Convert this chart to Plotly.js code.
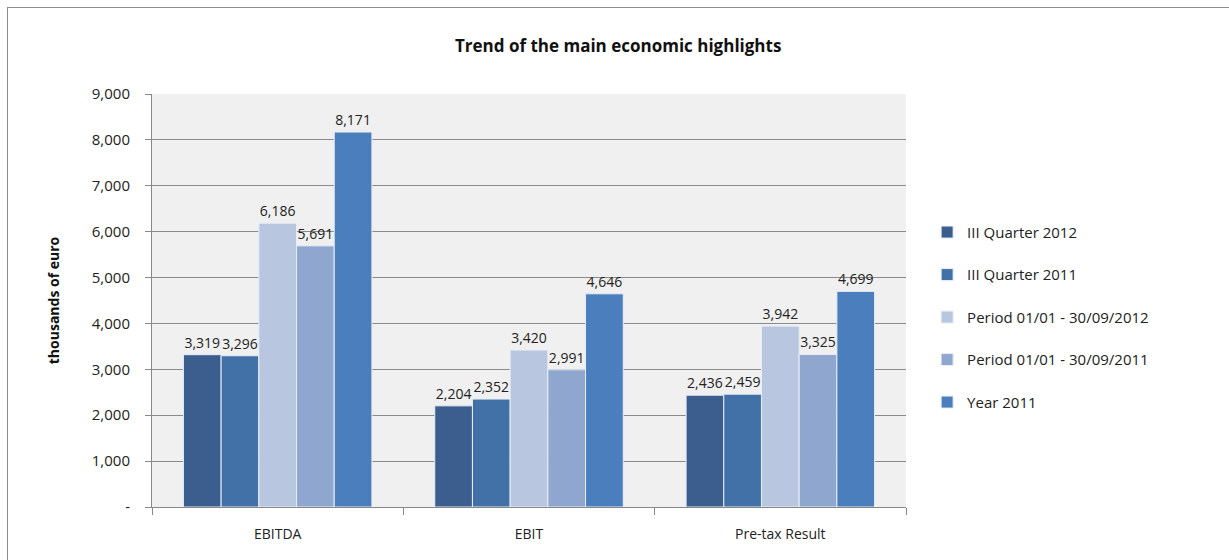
<!DOCTYPE html>
<html>
<head>
<meta charset="utf-8">
<script src="https://cdn.plot.ly/plotly-3.0.1.min.js"></script>
<style>
html,body{margin:0;padding:0;background:#fff;}
#wrap{position:relative;width:1229px;height:560px;}
#chart{width:1229px;height:560px;}
#frame{position:absolute;left:7px;top:7px;width:1240px;height:580px;border:1px solid #8c8c8c;pointer-events:none;}
</style>
</head>
<body>
<div id="wrap"><div id="chart"></div><div id="frame"></div></div>
<script>
const categories = ["EBITDA", "EBIT", "Pre-tax Result"];
const seriesNames = ["III Quarter 2012", "III Quarter 2011", "Period 01/01 - 30/09/2012", "Period 01/01 - 30/09/2011", "Year 2011"];
const q3_2012 = [3319, 2204, 2436];
const q3_2011 = [3296, 2352, 2459];
const period2012 = [6186, 3420, 3942];
const period2011 = [5691, 2991, 3325];
const year2011 = [8171, 4646, 4699];
const yTickVals = [0, 1000, 2000, 3000, 4000, 5000, 6000, 7000, 8000, 9000];
const yTickText = ["-", "1,000", "2,000", "3,000", "4,000", "5,000", "6,000", "7,000", "8,000", "9,000"];

const seriesValues = [q3_2012, q3_2011, period2012, period2011, year2011];
const colors = ["#3B5E8E", "#4271A7", "#B8C7DF", "#8FA7CF", "#4A7EBC"];
const fontFam = "'Open Sans', 'Noto Sans', sans-serif";

const traces = seriesValues.map((vals, i) => ({
  type: "bar",
  name: seriesNames[i],
  x: categories,
  y: vals,
  legendgroup: "g" + i,
  marker: {color: colors[i], line: {color: "#e8eef6", width: 1}},
  text: vals.map(v => v.toLocaleString("en-US")),
  textposition: "outside",
  cliponaxis: false,
  constraintext: "none",
  textfont: {family: fontFam, size: 14, color: "#222"},
  hoverinfo: "x+y+name"
}));

const layout = {
  width: 1229, height: 560,
  margin: {l: 152, r: 323, t: 94, b: 53},
  paper_bgcolor: "#ffffff",
  plot_bgcolor: "#f0f0f0",
  barmode: "group",
  bargap: 0.25,
  bargroupgap: 0,
  title: {text: "<b>Trend of the main economic highlights</b>", x: 0.503, xref: "container", xanchor: "center", y: 0.918, yanchor: "middle", font: {family: fontFam, size: 17, color: "#111"}},
  xaxis: {
    type: "category",
    showline: true, linecolor: "#888", linewidth: 1,
    ticks: "outside", tickson: "boundaries", ticklen: 7, tickcolor: "#888",
    ticklabelstandoff: 14,
    tickfont: {family: fontFam, size: 14, color: "#222"},
    showgrid: false, zeroline: false
  },
  yaxis: {
    range: [0, 9000],
    tickvals: yTickVals, ticktext: yTickText,
    ticks: "outside", ticklen: 6, tickcolor: "#888",
    ticklabelstandoff: 12,
    showline: true, linecolor: "#888", linewidth: 1,
    showgrid: true, gridcolor: "#8a8a8a", gridwidth: 1,
    zeroline: false,
    tickfont: {family: fontFam, size: 15, color: "#222"},
    title: {text: "<b>thousands of euro</b>", font: {family: fontFam, size: 14, color: "#111"}, standoff: 28}
  },
  legend: {
    x: 1.028, xanchor: "left", y: 0.705, yanchor: "top",
    traceorder: "grouped", tracegroupgap: 20,
    font: {family: fontFam, size: 15, color: "#222"},
    bgcolor: "rgba(0,0,0,0)",
    itemwidth: 30
  },
  showlegend: true
};

Plotly.newPlot("chart", traces, layout, {displayModeBar: false, staticPlot: true});
</script>
</body>
</html>
